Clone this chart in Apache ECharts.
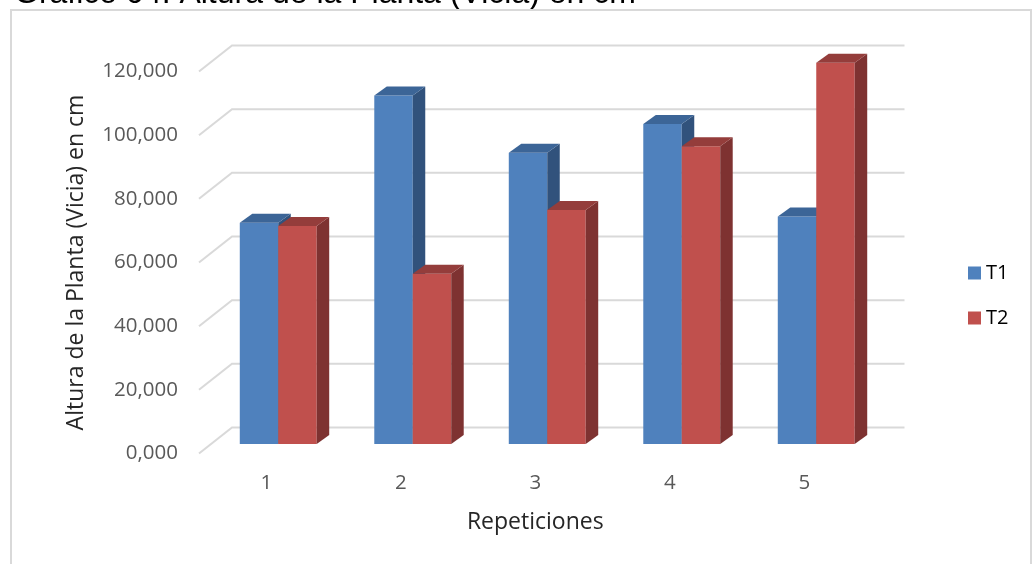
<!DOCTYPE html>
<html>
<head>
<meta charset="utf-8">
<script src="https://cdn.jsdelivr.net/npm/echarts@6/dist/echarts.min.js"></script>
<style>
  html, body { margin: 0; padding: 0; background: #ffffff; }
  #chart { width: 1035px; height: 564px; }
</style>
</head>
<body>
<div id="chart"></div>
<script>
// Plant height per repetition, two treatments
const categories = ['1', '2', '3', '4', '5'];
const t1Values = [69.5, 109.5, 91.5, 100.5, 71.5];
const t2Values = [68.5, 53.5, 73.5, 93.5, 119.8];
const yTicks = [0, 20, 40, 60, 80, 100, 120];

// Pseudo-3D geometry (pixels)
const WALL = [33, -26];        // offset from front plane to back wall
const BAR_SHIFT = [12, -9.5];  // bar front faces sit this far into the depth
const BAR_DEPTH = [12.5, -9];  // thickness of each bar

const LABEL_FONT = '"Open Sans", "Liberation Sans", sans-serif';

const palette = {
  T1: { front: '#4f81bd', side: '#31527c', top: '#3c6597' },
  T2: { front: '#c0504d', side: '#7e3231', top: '#943d3b' }
};

function fmt(v) {
  return v.toFixed(3).replace('.', ',');
}

function barRenderer(side, colors) {
  return function (params, api) {
    const cat = api.value(0);
    const val = api.value(1);
    const base = api.coord([cat, 0]);
    const top = api.coord([cat, val]);
    const band = api.size([1, 0])[0];
    const w = band * 0.286;
    const x0 = base[0] + BAR_SHIFT[0] + (side === 0 ? -w : 0);
    const x1 = x0 + w;
    const yb = base[1] + BAR_SHIFT[1];
    const yt = top[1] + BAR_SHIFT[1];
    const dx = BAR_DEPTH[0], dy = BAR_DEPTH[1];
    return {
      type: 'group',
      children: [
        { type: 'polygon', shape: { points: [[x0, yb], [x1, yb], [x1, yt], [x0, yt]] },
          style: { fill: colors.front } },
        { type: 'polygon', shape: { points: [[x1, yb], [x1 + dx, yb + dy], [x1 + dx, yt + dy], [x1, yt]] },
          style: { fill: colors.side } },
        { type: 'polygon', shape: { points: [[x0, yt], [x1, yt], [x1 + dx, yt + dy], [x0 + dx, yt + dy]] },
          style: { fill: colors.top } }
      ]
    };
  };
}

// Side-wall diagonal plus back-wall line for each value tick
function wallRenderer(params, api) {
  const cs = params.coordSys;
  const y = api.coord([0, api.value(1)])[1];
  const xl = cs.x, xr = cs.x + cs.width;
  return {
    type: 'polyline',
    shape: { points: [[xl, y], [xl + WALL[0], y + WALL[1]], [xr + WALL[0], y + WALL[1]]] },
    style: { stroke: '#d9d9d9', lineWidth: 2, fill: null }
  };
}

const chart = echarts.init(document.getElementById('chart'), null, { renderer: 'canvas' });

chart.setOption({
  backgroundColor: '#ffffff',
  animation: false,
  graphic: [
    {
      type: 'text', left: 14, top: -22, silent: true,
      style: {
        text: 'Gráfico 04: Altura de la Planta (Vicia) en cm',
        fontFamily: '"Liberation Sans", Arial, sans-serif',
        fontSize: 32, fill: '#000000'
      }
    },
    {
      type: 'rect', silent: true,
      shape: { x: 11, y: 10, width: 1020, height: 600 },
      style: { fill: null, stroke: '#d9d9d9', lineWidth: 2 }
    }
  ],
  grid: { left: 199, right: 163.5, top: 71.5, bottom: 110.5 },
  legend: {
    data: ['T1', 'T2'],
    orient: 'vertical',
    left: 963, top: 258,
    itemWidth: 13, itemHeight: 13, itemGap: 25,
    icon: 'rect',
    textStyle: { fontFamily: LABEL_FONT, fontSize: 20, color: '#000000' }
  },
  xAxis: {
    type: 'category',
    data: categories,
    axisLine: { show: false },
    axisTick: { show: false },
    axisLabel: { margin: 19.5, fontFamily: LABEL_FONT, fontSize: 20.5, color: '#595959' },
    name: 'Repeticiones',
    nameLocation: 'middle',
    nameGap: 57,
    nameTextStyle: { fontFamily: LABEL_FONT, fontSize: 23, color: '#262626' }
  },
  yAxis: {
    type: 'value',
    min: 0, max: 120, interval: 20,
    axisLine: { show: false },
    axisTick: { show: false },
    splitLine: { show: false },
    axisLabel: { margin: 21, formatter: fmt, fontFamily: LABEL_FONT, fontSize: 20.5, color: '#595959' },
    name: 'Altura de la Planta (Vicia) en cm',
    nameLocation: 'middle',
    nameGap: 111,
    nameTextStyle: { fontFamily: LABEL_FONT, fontSize: 23, color: '#262626' }
  },
  series: [
    {
      name: 'walls', type: 'custom', silent: true,
      data: yTicks.map(v => [0, v]),
      encode: { x: 0, y: 1 },
      renderItem: wallRenderer
    },
    {
      name: 'T1', type: 'custom',
      itemStyle: { color: palette.T1.front },
      data: t1Values.map((v, i) => [i, v]),
      encode: { x: 0, y: 1 },
      renderItem: barRenderer(0, palette.T1)
    },
    {
      name: 'T2', type: 'custom',
      itemStyle: { color: palette.T2.front },
      data: t2Values.map((v, i) => [i, v]),
      encode: { x: 0, y: 1 },
      renderItem: barRenderer(1, palette.T2)
    }
  ]
});
</script>
</body>
</html>
